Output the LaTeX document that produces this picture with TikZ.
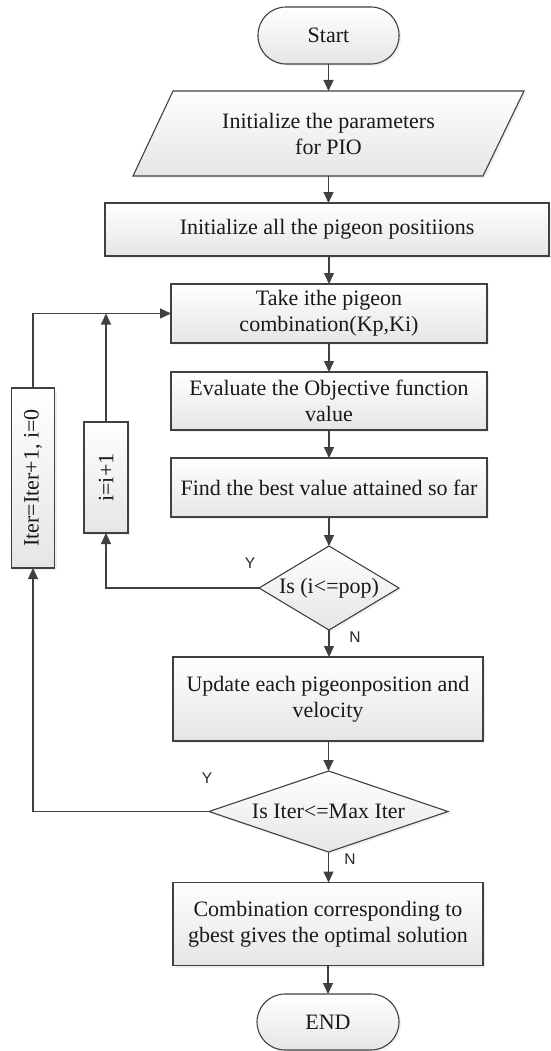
\documentclass[tikz,border=0pt]{standalone}
\usepackage{fontspec}
\setmainfont{Liberation Serif}
\newfontfamily\labelfont{Liberation Sans}
\usetikzlibrary{arrows.meta,shapes.geometric,shadows}
\begin{document}
\begin{tikzpicture}[x=1pt,y=-1pt,
  every node/.style={font=\fontsize{22}{26}\selectfont, text=black!90},
  boxfill/.style={top color=white, bottom color=black!10,
    drop shadow={opacity=0.12, shadow xshift=2pt, shadow yshift=-2pt}},
  proc/.style={draw=black!75, line width=1.1pt, boxfill, rectangle,
    inner sep=0pt, outer sep=0pt, align=center},
  term/.style={proc, rounded corners=28pt},
  dec/.style={proc, diamond, aspect=#1},
  conn/.style={draw=black!75, line width=1.1pt},
  arr/.style={conn, -{Triangle[length=11pt,width=10pt]}},
  yn/.style={font=\labelfont\fontsize{15.5}{18}\selectfont, text=black!85}
]
\useasboundingbox (0,0) rectangle (550,1051);

% nodes
\node[term, minimum width=141pt, minimum height=57pt] (start) at (328.5,35.5) {Start};

\path[draw=black!75, line width=1.1pt, boxfill]
  (173,91) -- (524,91) -- (483,176) -- (133,176) -- cycle;
\node[align=center, inner sep=0pt, outer sep=0pt, minimum height=85pt] (para) at (328.5,133.5)
  {Initialize the parameters\\for PIO};

\node[proc, minimum width=444pt, minimum height=53pt] (init) at (327,229.5)
  {Initialize all the pigeon positiions};
\node[proc, minimum width=316pt, minimum height=59pt] (take) at (329,313.5)
  {Take ithe pigeon\\combination(Kp,Ki)};
\node[proc, minimum width=316pt, minimum height=58pt] (eval) at (329,401)
  {Evaluate the Objective function\\value};
\node[proc, minimum width=316pt, minimum height=59pt] (find) at (329,487.5)
  {Find the best value attained so far};
\node[dec=1.67, minimum width=140pt, minimum height=84pt] (d1) at (329,588)
  {Is (i<=pop)};
\node[proc, minimum width=310pt, minimum height=84pt] (upd) at (328,699)
  {Update each pigeonposition and\\velocity};
\node[dec=2.95, minimum width=239pt, minimum height=81pt] (d2) at (328.5,811.5)
  {Is Iter<=Max Iter};
\node[proc, minimum width=310pt, minimum height=83pt] (comb) at (328,924)
  {Combination corresponding to\\gbest gives the optimal solution};
\node[term, minimum width=142pt, minimum height=56pt] (end) at (328,1022) {END};

\node[proc, rotate=90, minimum width=180pt, minimum height=43pt] (iterb) at (33,478)
  {Iter=Iter+1, i=0};
\node[proc, rotate=90, minimum width=111pt, minimum height=44pt] (ibox) at (106,477.5)
  {i=i+1};

% labels
\node[yn] (y1) at (250,563) {Y};
\node[yn] (n1) at (355,637) {N};
\node[yn] (y2) at (207,778) {Y};
\node[yn] (n2) at (350,859) {N};

% main flow
\draw[arr] (start.south) -- (para.north);
\draw[arr] (para.south) -- (para.south |- init.north);
\draw[arr] (init.south -| take.north) -- (take.north);
\draw[arr] (take.south) -- (eval.north);
\draw[arr] (eval.south) -- (find.north);
\draw[arr] (find.south) -- (d1.north);
\draw[arr] (d1.south) -- (d1.south |- upd.north);
\draw[arr] (upd.south -| d2.north) -- (d2.north);
\draw[arr] (d2.south) -- (d2.south |- comb.north);
\draw[arr] (comb.south) -- (end.north);

% loops
\draw[arr] (d1.west) -| (ibox.west);
\draw[arr] (ibox.east) -- (ibox.east |- take.west);
\draw[arr] (d2.west) -| (iterb.west);
\draw[arr] (iterb.east) |- (take.west);
\end{tikzpicture}
\end{document}
